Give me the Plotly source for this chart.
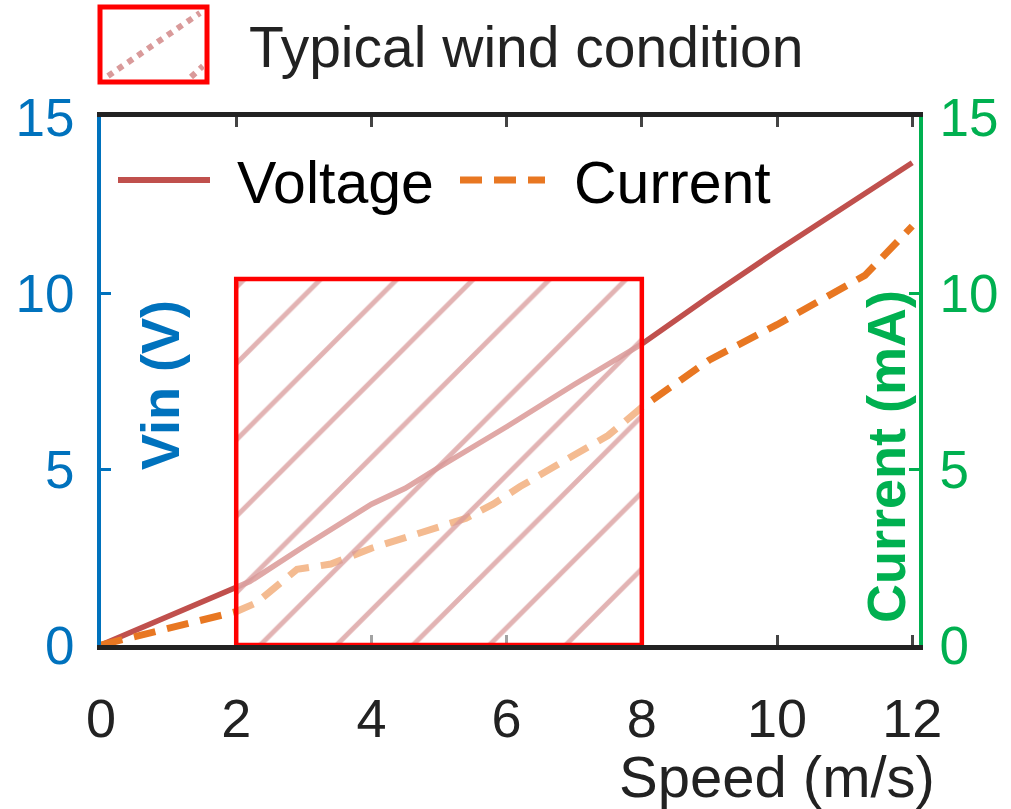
import plotly.graph_objects as go

# ---------------- data ----------------
speed_v = [0, 2.2, 3, 4, 4.5, 5, 6, 7, 8, 9, 10, 11, 12]
voltage = [0, 1.8, 2.8, 4.0, 4.45, 5.05, 6.2, 7.4, 8.55, 9.9, 11.2, 12.45, 13.7]

speed_i = [0, 1, 2, 2.3, 2.9, 3.4, 4.0, 4.5, 5.0, 5.4, 5.8, 6.2, 7.0, 7.5, 8.0, 9.0, 10.0, 11.3, 12.0]
current = [0, 0.45, 0.95, 1.2, 2.15, 2.3, 2.75, 3.05, 3.35, 3.6, 4.0, 4.5, 5.4, 5.95, 6.75, 8.1, 9.1, 10.5, 11.9]

typical_range = [2, 8]      # m/s
typical_top = 10.4          # top of the highlighted box (axis units)

x_ticks = [0, 2, 4, 6, 8, 10, 12]
y_ticks = [0, 5, 10, 15]

# ---------------- style ----------------
FONT = "Liberation Sans, Arial, sans-serif"
BLUE = "#0072BD"
GREEN = "#00B050"
VCOL = "#C0504D"
ICOL = "#E87722"
RED = "#FF0000"
DARK = "#222222"
HATCH = "#d99a9a"

fig = go.Figure()

fig.add_trace(go.Scatter(
    x=speed_v, y=voltage, mode="lines", name="Voltage",
    line=dict(color=VCOL, width=5.5), yaxis="y", showlegend=False, hoverinfo="skip"))

fig.add_trace(go.Scatter(
    x=speed_i, y=current, mode="lines", name="Current",
    line=dict(color=ICOL, width=7, dash="22px,12px"), yaxis="y2",
    showlegend=False, hoverinfo="skip"))

bx = [typical_range[0], typical_range[1], typical_range[1], typical_range[0], typical_range[0]]
by = [0, 0, typical_top, typical_top, 0]
fig.add_trace(go.Scatter(
    x=bx, y=by, mode="lines", fill="toself", name="Typical wind condition",
    line=dict(color=RED, width=4.5),
    fillpattern=dict(shape="/", size=54, solidity=0.09,
                     fgcolor=HATCH, fgopacity=0.75,
                     bgcolor="rgba(255,255,255,0.5)"),
    yaxis="y2", showlegend=False, hoverinfo="skip", cliponaxis=False))

# plot-area pixel geometry helpers (for legend decorations)
L, R, T, B = 101, 92, 117, 164
W, H = 1011, 809
PW, PH = W - L - R, H - T - B


def px(x):
    return (x - L) / PW


def py(y):
    return (H - B - y) / PH


shapes = [
    # top legend swatch
    dict(type="rect", xref="paper", yref="paper", x0=px(100), x1=px(207), y0=py(82), y1=py(7),
         line=dict(color=RED, width=5), fillcolor="white"),
    dict(type="line", xref="paper", yref="paper", x0=px(108), y0=py(76), x1=px(200), y1=py(13),
         line=dict(color=HATCH, width=6, dash="dot")),
    dict(type="line", xref="paper", yref="paper", x0=px(191), y0=py(77), x1=px(203), y1=py(66),
         line=dict(color=HATCH, width=6, dash="dot")),
    # inner legend samples
    dict(type="line", xref="paper", yref="paper", x0=px(118), x1=px(210), y0=py(180), y1=py(180),
         line=dict(color=VCOL, width=6)),
    dict(type="line", xref="paper", yref="paper", x0=px(460), x1=px(545), y0=py(180), y1=py(180),
         line=dict(color=ICOL, width=7, dash="22px,12px")),
]

annotations = [
    dict(text="Typical wind condition", xref="paper", yref="paper", x=px(247), y=py(47),
         xanchor="left", yanchor="middle", showarrow=False,
         font=dict(family=FONT, size=57, color=DARK)),
    dict(text="Voltage", xref="paper", yref="paper", x=px(235), y=py(183),
         xanchor="left", yanchor="middle", showarrow=False,
         font=dict(family=FONT, size=59, color="black")),
    dict(text="Current", xref="paper", yref="paper", x=px(572), y=py(183),
         xanchor="left", yanchor="middle", showarrow=False,
         font=dict(family=FONT, size=59, color="black")),
    dict(text="Speed (m/s)", xref="paper", yref="paper", x=px(937), y=py(776),
         xanchor="right", yanchor="middle", showarrow=False,
         font=dict(family=FONT, size=58, color=DARK)),
    dict(text="<b>Vin (V)</b>", xref="paper", yref="paper", x=px(160), y=py(385),
         xanchor="center", yanchor="middle", showarrow=False, textangle=-90,
         font=dict(family=FONT, size=54, color=BLUE)),
    dict(text="<b>Current (mA)</b>", xref="paper", yref="paper", x=px(886), y=py(457),
         xanchor="center", yanchor="middle", showarrow=False, textangle=-90,
         font=dict(family=FONT, size=54, color=GREEN)),
]

fig.update_layout(
    template="none",
    width=W, height=H, autosize=False,
    margin=dict(l=L, r=R, t=T, b=B, pad=0),
    paper_bgcolor="white", plot_bgcolor="white",
    font=dict(family=FONT),
    showlegend=False,
    shapes=shapes, annotations=annotations,
    xaxis=dict(range=[0, 12.1], tickmode="array", tickvals=x_ticks, automargin=False,
               ticks="inside", ticklen=10, tickwidth=3, tickcolor="#444",
               showline=True, linecolor=DARK, linewidth=5, mirror="ticks",
               showgrid=False, zeroline=False, layer="below traces",
               ticklabelstandoff=22,
               tickfont=dict(family=FONT, size=54, color=DARK)),
    yaxis=dict(range=[0, 15], tickmode="array", tickvals=y_ticks, automargin=False,
               ticks="inside", ticklen=10, tickwidth=3, tickcolor=BLUE,
               showline=True, linecolor=BLUE, linewidth=4,
               showgrid=False, zeroline=False, ticklabelstandoff=12,
               tickfont=dict(family=FONT, size=53, color=BLUE)),
    yaxis2=dict(range=[0, 15], tickmode="array", tickvals=y_ticks, overlaying="y", side="right",
                automargin=False,
                ticks="inside", ticklen=10, tickwidth=3, tickcolor=GREEN,
                showline=True, linecolor=GREEN, linewidth=4,
                showgrid=False, zeroline=False, ticklabelstandoff=6,
                tickfont=dict(family=FONT, size=53, color=GREEN)),
)

fig.write_html("out.html")
